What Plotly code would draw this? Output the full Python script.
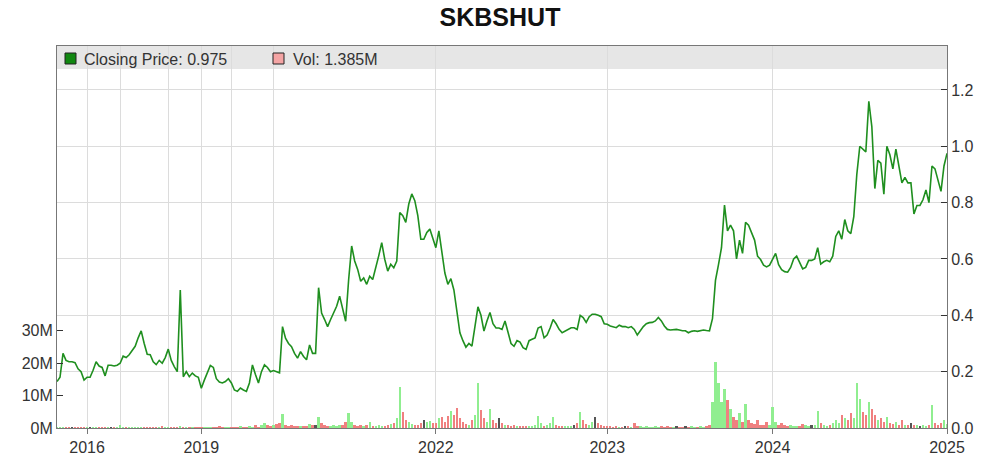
import plotly.graph_objects as go

# ---------------- data ----------------
years = [2015, 2016, 2017, 2018, 2019, 2020, 2021, 2022, 2023, 2024, 2025]
labelled_years = [2016, 2019, 2022, 2023, 2024, 2025]

price_2015 = [0.165, 0.18, 0.265, 0.24, 0.235, 0.235, 0.232, 0.21, 0.2, 0.17]
price_2016 = [0.18, 0.18, 0.205, 0.235, 0.22, 0.215, 0.185, 0.223, 0.223, 0.22, 0.223]
price_2017 = [0.23, 0.255, 0.25, 0.26, 0.275, 0.29, 0.32, 0.345, 0.30, 0.262, 0.26, 0.235,
              0.225, 0.24, 0.23, 0.25]
price_2018 = [0.28, 0.24, 0.218, 0.2, 0.49, 0.182, 0.2, 0.182, 0.195, 0.185, 0.18]
price_2019 = [0.141, 0.17, 0.2, 0.222, 0.215, 0.175, 0.163, 0.16, 0.165, 0.175]
price_2020 = [0.16, 0.135, 0.13, 0.142, 0.135, 0.13, 0.16, 0.224, 0.19, 0.16, 0.2, 0.224,
              0.215, 0.2]
price_2021 = [0.204, 0.2, 0.196, 0.36, 0.319, 0.30, 0.289, 0.265, 0.248, 0.271,
              0.254, 0.242, 0.295, 0.265, 0.265, 0.498, 0.408, 0.385, 0.36, 0.385,
              0.408, 0.432, 0.468, 0.42, 0.379, 0.527, 0.646, 0.593, 0.563, 0.521,
              0.533, 0.51, 0.539, 0.527, 0.575, 0.611, 0.658, 0.599, 0.557, 0.581,
              0.569, 0.593, 0.765, 0.754, 0.73, 0.795, 0.831, 0.807, 0.754, 0.67,
              0.67, 0.694, 0.706, 0.676]
price_2022 = [0.64, 0.70, 0.62, 0.55, 0.51, 0.53, 0.49, 0.42, 0.338, 0.31,
              0.287, 0.30, 0.291, 0.36, 0.43, 0.40, 0.344, 0.38, 0.41, 0.37,
              0.355, 0.355, 0.35, 0.38, 0.335, 0.30, 0.29, 0.31, 0.305, 0.285,
              0.279, 0.31, 0.315, 0.32, 0.355, 0.36, 0.32, 0.33, 0.355, 0.385,
              0.37, 0.35, 0.338, 0.345, 0.35, 0.356, 0.356, 0.35, 0.40, 0.392,
              0.375, 0.395, 0.404, 0.404, 0.40, 0.395, 0.37]
price_2023 = [0.368, 0.362, 0.36, 0.356, 0.365, 0.36, 0.36, 0.356, 0.36, 0.35,
              0.33, 0.345, 0.36, 0.37, 0.374, 0.375, 0.38, 0.392, 0.38, 0.362,
              0.35, 0.348, 0.35, 0.35, 0.348, 0.345, 0.345, 0.338, 0.343, 0.345,
              0.343, 0.345, 0.348, 0.346, 0.345, 0.388, 0.524, 0.58, 0.64, 0.791,
              0.70, 0.72, 0.70, 0.60, 0.667, 0.62, 0.73, 0.72, 0.69, 0.667,
              0.61, 0.598, 0.578, 0.572, 0.578]
price_2024 = [0.60, 0.62, 0.58, 0.562, 0.555, 0.553, 0.57, 0.60, 0.61, 0.585,
              0.565, 0.57, 0.595, 0.595, 0.60, 0.64, 0.582, 0.59, 0.595, 0.59,
              0.61, 0.68, 0.70, 0.67, 0.74, 0.70, 0.69, 0.75, 0.90, 1.0,
              0.99, 0.98, 1.16, 1.07, 0.85, 0.95, 0.94, 0.83, 1.0, 0.97,
              0.92, 0.99, 0.93, 0.87, 0.89, 0.87, 0.87, 0.76, 0.79, 0.79,
              0.81, 0.845, 0.80, 0.93, 0.92, 0.88, 0.84, 0.93]
price_2025 = [0.975]

vol_2015 = [0.2, 0.1, 0.3, 0.2, 0.1, 0.2, 0.1, 0.1, 0.2, 0.1]
vol_2016 = [0.1, 0.2, 0.1, 0.1, 0.3, 0.1, 0.2, 0.1, 0.1, 0.2, 0.1]
vol_2017 = [0.8, 0.2, 0.1, 0.3, 0.2, 0.1, 0.1, 0.2, 0.1, 0.3, 0.1, 0.2, 0.1, 0.1, 0.6, 0.1]
vol_2018 = [0.2, 0.1, 0.2, 0.1, 0.4, 0.1, 0.2, 0.1, 0.1, 0.2, 0.1]
vol_2019 = [0.1, 0.2, 0.1, 0.3, 0.2, 0.1, 0.5, 0.2, 0.1, 0.2]
vol_2020 = [0.3, 0.1, 0.2, 0.6, 0.2, 0.1, 0.4, 0.2, 0.8, 0.3, 1.0, 1.5, 0.9, 0.6]
vol_2021 = [0.8, 1.2, 1.5, 4.3, 1.0, 0.6, 0.8, 0.5, 0.7, 0.4,
            0.6, 0.5, 1.2, 0.8, 1.0, 3.4, 1.5, 0.8, 0.6, 0.5,
            0.8, 0.6, 1.0, 0.9, 1.8, 4.5, 2.0, 1.0, 0.7, 0.8,
            0.6, 1.0, 1.8, 0.7, 0.6, 0.8, 0.5, 0.7, 0.9, 1.2,
            1.5, 3.0, 12.8, 5.0, 2.5, 1.8, 1.2, 1.0, 0.8, 1.5,
            2.5, 2.0, 2.2, 1.5]
vol_2022 = [1.5, 3.2, 3.5, 1.8, 3.8, 5.2, 4.0, 6.3, 3.0, 1.8,
            1.2, 0.8, 2.5, 4.0, 13.8, 5.5, 3.0, 1.8, 5.8, 2.5,
            1.5, 3.0, 1.5, 1.0, 0.8, 0.6, 0.8, 0.5, 0.7, 0.5,
            0.6, 0.5, 0.6, 0.8, 3.8, 1.5, 0.7, 0.8, 1.5, 3.5,
            1.0, 0.6, 0.5, 0.4, 0.5, 0.6, 0.8, 1.5, 5.0, 2.5,
            1.2, 1.0, 2.0, 3.5, 1.5, 0.8, 0.6]
vol_2023 = [0.5, 0.4, 0.3, 0.4, 0.3, 0.3, 0.4, 0.5, 0.3, 1.5,
            0.5, 0.4, 0.3, 0.4, 0.3, 0.3, 0.5, 0.3, 0.4, 0.3,
            0.4, 0.3, 0.3, 0.4, 0.3, 0.3, 0.5, 0.3, 0.4, 0.3,
            0.3, 0.4, 0.3, 0.5, 1.0, 8.0, 20.5, 14.0, 8.0, 12.0,
            8.5, 6.0, 3.5, 2.5, 4.5, 2.0, 7.5, 2.5, 1.5, 1.2,
            2.5, 1.0, 0.8, 2.0, 1.0]
vol_2024 = [6.5, 2.0, 1.0, 1.5, 0.8, 0.6, 0.8, 0.5, 0.7, 0.6,
            1.2, 0.8, 0.6, 0.8, 1.0, 5.2, 1.5, 0.8, 0.6, 0.8,
            1.5, 2.5, 1.5, 4.0, 3.0, 2.5, 4.5, 3.0, 14.0, 9.0,
            5.0, 4.0, 8.0, 6.0, 4.0, 2.5, 3.0, 2.0, 3.5, 1.5,
            1.2, 2.0, 1.0, 2.5, 1.0, 0.8, 1.5, 1.0, 0.8, 0.6,
            0.8, 0.6, 0.8, 7.0, 1.5, 1.0, 1.5, 2.5]
vol_2025 = [1.385]

price_ticks = [0.0, 0.2, 0.4, 0.6, 0.8, 1.0, 1.2]
vol_ticks = [0, 10, 20, 30]

# ---------------- assemble ----------------
price_by_year = [price_2015, price_2016, price_2017, price_2018, price_2019, price_2020,
                 price_2021, price_2022, price_2023, price_2024, price_2025]
vol_by_year = [vol_2015, vol_2016, vol_2017, vol_2018, vol_2019, vol_2020,
               vol_2021, vol_2022, vol_2023, vol_2024, vol_2025]

prices, vols, year_start = [], [], {}
for y, ps, vs in zip(years, price_by_year, vol_by_year):
    year_start[y] = len(prices)
    prices += ps
    vols += vs
idx = list(range(len(prices)))

GREEN_UP = "#90ee90"
RED_DN = "#f08080"
FLAT = "#555555"
bar_colors = []
for i, p in enumerate(prices):
    if i == 0 or p > prices[i - 1]:
        bar_colors.append(GREEN_UP)
    elif p < prices[i - 1]:
        bar_colors.append(RED_DN)
    else:
        bar_colors.append(FLAT)

FONT = "Liberation Sans, Arial, sans-serif"
GRID = "#dcdcdc"
AXIS = "#777777"

fig = go.Figure()
fig.add_trace(go.Bar(x=idx, y=vols, marker=dict(color=bar_colors, line=dict(width=0)),
                     width=0.8, yaxis="y", showlegend=False, hoverinfo="skip"))
fig.add_trace(go.Scatter(x=idx, y=prices, mode="lines",
                         line=dict(color="#1f8f1f", width=1.6),
                         yaxis="y2", showlegend=False))

# plot area in pixels (for paper-relative decoration placement)
L, R, T, B = 57, 947, 46, 428
W, H = R - L, B - T
def px(x):
    return (x - L) / W
def py(y):
    return (B - y) / H

shapes = [
    dict(type="rect", xref="paper", yref="paper", x0=0, x1=1, y0=py(69), y1=1,
         fillcolor="#e6e6e6", line=dict(width=0), layer="below"),
    dict(type="rect", xref="paper", yref="paper", x0=px(65), x1=px(76), y0=py(64), y1=py(53),
         fillcolor="#118811", line=dict(color="#222222", width=1)),
    dict(type="rect", xref="paper", yref="paper", x0=px(273), x1=px(284), y0=py(64), y1=py(53),
         fillcolor="#f4a4a4", line=dict(color="#222222", width=1)),
]
annotations = [
    dict(text=f"Closing Price: {prices[-1]:.3f}", xref="paper", yref="paper",
         x=px(82), y=py(59), xanchor="left", yanchor="middle", showarrow=False,
         font=dict(family=FONT, size=16, color="#333333")),
    dict(text=f"Vol: {vols[-1]:.3f}M", xref="paper", yref="paper",
         x=px(291), y=py(59), xanchor="left", yanchor="middle", showarrow=False,
         font=dict(family=FONT, size=16, color="#333333")),
]

fig.update_layout(
    width=1000, height=465,
    margin=dict(l=L, r=1000 - R, t=T, b=465 - B),
    paper_bgcolor="white", plot_bgcolor="white",
    title=dict(text="<b>SKBSHUT</b>", x=0.5, xref="container", xanchor="center",
               y=1 - 17 / 465, yref="container", yanchor="middle",
               font=dict(family=FONT, size=25, color="#111111")),
    bargap=0,
    shapes=shapes,
    annotations=annotations,
    xaxis=dict(
        range=[0, len(prices) - 1],
        tickmode="array",
        tickvals=[year_start[y] for y in labelled_years],
        ticktext=[str(y) for y in labelled_years],
        ticks="outside", ticklen=5, tickcolor=AXIS,
        showgrid=True, gridcolor=GRID, gridwidth=1,
        minor=dict(tickmode="array", tickvals=[year_start[y] for y in years[1:]],
                   showgrid=True, gridcolor=GRID, ticks=""),
        showline=True, linecolor=AXIS, linewidth=1, mirror=True,
        zeroline=False, automargin=False,
        tickfont=dict(family=FONT, size=16, color="#333333"),
    ),
    yaxis=dict(
        range=[0, 118], side="left",
        tickmode="array", tickvals=vol_ticks, ticktext=[f"{v}M" for v in vol_ticks],
        ticks="inside", ticklen=6, tickcolor="#333333",
        showgrid=False, zeroline=False, automargin=False,
        showline=True, linecolor=AXIS, linewidth=1,
        tickfont=dict(family=FONT, size=16, color="#333333"),
    ),
    yaxis2=dict(
        range=[0, 1.356], side="right", overlaying="y",
        tickmode="array", tickvals=price_ticks, ticktext=[f"{v:.1f}" for v in price_ticks],
        ticks="inside", ticklen=6, tickcolor="#333333",
        showgrid=True, gridcolor=GRID, gridwidth=1, zeroline=False, automargin=False,
        showline=True, linecolor=AXIS, linewidth=1,
        tickfont=dict(family=FONT, size=16, color="#333333"),
    ),
)

fig.write_html("out.html",
               config={"displayModeBar": False},
               post_script="document.body.style.margin='0px';document.body.style.padding='0px';")
